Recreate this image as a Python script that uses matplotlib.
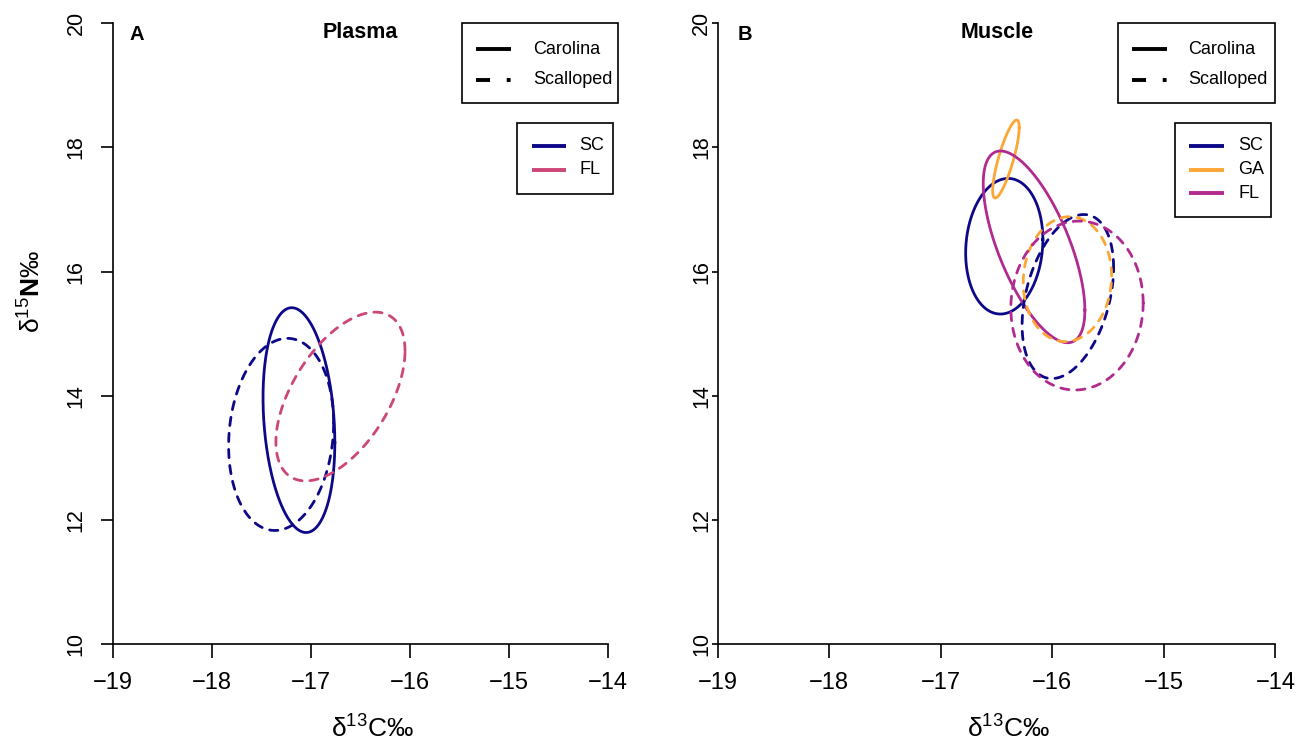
import numpy as np
import matplotlib
matplotlib.use("Agg")
import matplotlib.pyplot as plt
from matplotlib.lines import Line2D
from matplotlib.patches import Rectangle

plt.rcParams['font.family'] = ['Liberation Sans', 'DejaVu Sans']
plt.rcParams['mathtext.fontset'] = 'custom'
plt.rcParams['mathtext.rm'] = 'Liberation Sans'
plt.rcParams['mathtext.bf'] = 'Liberation Sans:bold'

# Цвета популяций (палитра plasma)
colors = {"SC": "#0D0887", "GA": "#FCA636", "FL_A": "#CC4678", "FL_B": "#B12A90"}

# Эллипсы: центр, стандартные отклонения и корреляция (d13C, d15N)
# Панель A - плазма
plasma_names = ["SC", "SC", "FL"]
plasma_species = ["Carolina", "Scalloped", "Scalloped"]
plasma_cx = [-17.12, -17.30, -16.70]
plasma_cy = [13.61, 13.38, 13.99]
plasma_sdx = [0.363, 0.531, 0.653]
plasma_sdy = [1.81, 1.547, 1.359]
plasma_rho = [-0.20, 0.12, 0.54]

# Панель B - мышцы
muscle_names = ["SC", "GA", "FL", "SC", "GA", "FL"]
muscle_species = ["Carolina", "Carolina", "Carolina", "Scalloped", "Scalloped", "Scalloped"]
muscle_cx = [-16.43, -16.415, -16.163, -15.86, -15.864, -15.778]
muscle_cy = [16.41, 17.815, 16.40, 15.60, 15.88, 15.455]
muscle_sdx = [0.346, 0.119, 0.4555, 0.41, 0.396, 0.593]
muscle_sdy = [1.092, 0.628, 1.544, 1.321, 1.006, 1.36]
muscle_rho = [0.10, 0.81, -0.66, 0.35, 0.05, 0.03]

x_ticks = [-19, -18, -17, -16, -15, -14]
y_ticks = [10, 12, 14, 16, 18, 20]

W, H = 1314, 750
fig = plt.figure(figsize=(W / 100, H / 100), dpi=100)


def fx(x):
    return x / W


def fy(y):
    return 1 - y / H


def ellipse(cx, cy, sdx, sdy, rho, n=300):
    t = np.linspace(0, 2 * np.pi, n)
    x = cx + sdx * np.cos(t)
    y = cy + sdy * (rho * np.cos(t) + np.sqrt(1 - rho ** 2) * np.sin(t))
    return x, y


def setup_axis(ax, ytick_pad, ytick_len):
    ax.set_xlim(-19, -14)
    ax.set_ylim(10, 20)
    for s in ["top", "right"]:
        ax.spines[s].set_visible(False)
    for s in ["left", "bottom"]:
        ax.spines[s].set_linewidth(1.2)
    ax.set_xticks(x_ticks)
    ax.set_xticklabels([f"\u2212{abs(v)}" for v in x_ticks])
    ax.set_yticks(y_ticks)
    ax.set_yticklabels([str(v) for v in y_ticks], rotation=90, va="center")
    ax.tick_params(axis="x", length=10, width=1.2, pad=10, labelsize=17)
    ax.tick_params(axis="y", length=ytick_len, width=1.2, pad=ytick_pad, labelsize=15.5)
    ax.patch.set_alpha(0)


def draw_ellipses(ax, names, species, cx, cy, sdx, sdy, rho, fl_color):
    for i in range(len(names)):
        x, y = ellipse(cx[i], cy[i], sdx[i], sdy[i], rho[i])
        c = fl_color if names[i] == "FL" else colors[names[i]]
        if species[i] == "Carolina":
            ax.plot(x, y, color=c, lw=2)
        else:
            ax.plot(x, y, color=c, lw=2, dashes=(3.0, 2.8), dash_capstyle="round")


def legend_box(x0, y0, x1, y1, rows, line_x0, line_x1, text_x):
    fig.add_artist(Rectangle((fx(x0), fy(y1)), fx(x1) - fx(x0), fy(y0) - fy(y1),
                             transform=fig.transFigure, fill=False, lw=1.2, ec="black"))
    for (ry, label, color, dashed) in rows:
        ln = Line2D([fx(line_x0), fx(line_x1)], [fy(ry), fy(ry)], transform=fig.transFigure,
                    color=color, lw=2.8, solid_capstyle="butt")
        if dashed:
            ln.set_dashes([3.6, 4.3, 1.0, 10])
            ln.set_dash_capstyle("butt")
        fig.add_artist(ln)
        fig.text(fx(text_x), fy(ry), label, fontsize=13, va="center", ha="left")


xlabel = "δ$^{\\mathregular{13}}$C‰"
ylabel = "δ$^{\\mathregular{15}}\\mathbf{N}$‰"

# Панель A
axA = fig.add_axes([fx(113), fy(644.3), fx(607.5) - fx(113), fy(23.3) - fy(644.3)])
setup_axis(axA, ytick_pad=10, ytick_len=9)
draw_ellipses(axA, plasma_names, plasma_species, plasma_cx, plasma_cy,
              plasma_sdx, plasma_sdy, plasma_rho, colors["FL_A"])
axA.set_ylabel(ylabel, fontsize=19)
axA.yaxis.set_label_coords(-(113 - 31) / 494.5, (644.3 - 292) / 621)
axA.yaxis.label.set_va("center")
axA.set_xlabel(xlabel, fontsize=19)
axA.xaxis.set_label_coords(0.5 + 12 / 494.5, -(728 - 644.3) / 621)
axA.xaxis.label.set_va("center")
fig.text(fx(137), fy(34), "A", fontsize=14.5, fontweight="bold", ha="center", va="center")
fig.text(fx(360), fy(33), "Plasma", fontsize=15.5, fontweight="bold", ha="center", va="center")

# Панель B
axB = fig.add_axes([fx(717.5), fy(644.3), fx(1275.4) - fx(717.5), fy(23.3) - fy(644.3)])
setup_axis(axB, ytick_pad=0, ytick_len=4)
draw_ellipses(axB, muscle_names, muscle_species, muscle_cx, muscle_cy,
              muscle_sdx, muscle_sdy, muscle_rho, colors["FL_B"])
axB.set_xlabel(xlabel, fontsize=19)
axB.xaxis.set_label_coords(0.5 + 12 / 557.9, -(728 - 644.3) / 621)
axB.xaxis.label.set_va("center")
fig.text(fx(745), fy(34), "B", fontsize=14.5, fontweight="bold", ha="center", va="center")
fig.text(fx(997), fy(33), "Muscle", fontsize=15.5, fontweight="bold", ha="center", va="center")

# Легенды
species_rows = [(49.3, "Carolina", "black", False), (80, "Scalloped", "black", True)]
legend_box(462.3, 23.3, 617.7, 103.3, species_rows, 476, 510.7, 533.3)
legend_box(517.3, 123.3, 613.3, 194,
           [(146, "SC", colors["SC"], False), (170, "FL", colors["FL_A"], False)],
           531.7, 566, 579.3)
legend_box(1118.3, 23.3, 1275, 103.3, species_rows, 1132.3, 1167.3, 1188.3)
legend_box(1175, 122.7, 1271, 217.3,
           [(146, "SC", colors["SC"], False), (170, "GA", colors["GA"], False),
            (193.3, "FL", colors["FL_B"], False)],
           1189.3, 1224, 1238)

fig.savefig("out.png", dpi=100)
